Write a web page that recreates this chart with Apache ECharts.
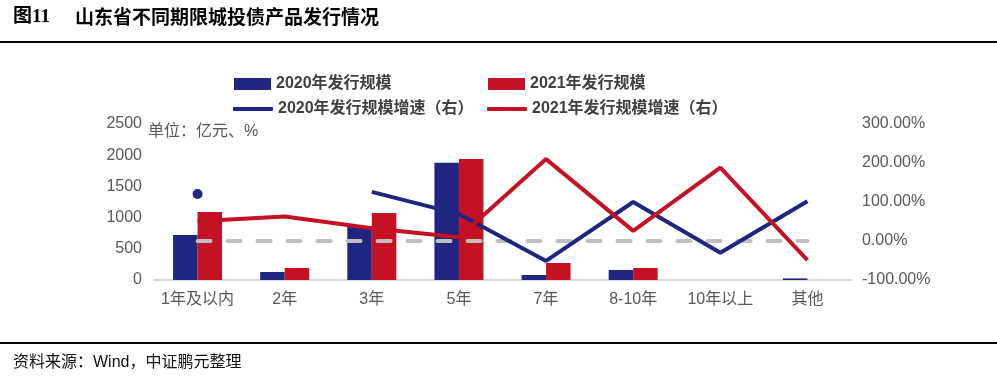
<!DOCTYPE html>
<html>
<head>
<meta charset="utf-8">
<script src="https://cdn.jsdelivr.net/npm/echarts@6/dist/echarts.min.js"></script>
<style>
html,body{margin:0;padding:0;background:#fff;}
#c{width:997px;height:383px;}
</style>
</head>
<body>
<div id="c"></div>
<script>
var categories = ['1年及以内', '2年', '3年', '5年', '7年', '8-10年', '10年以上', '其他'];
var scale2020 = [720, 128, 865, 1878, 80, 160, 0, 25];
var scale2021 = [1090, 192, 1074, 1940, 272, 192, 0, 0];
var growth2020 = [120.5, null, 126, 69, -51, 100, -30, 102];
var growth2021 = [50.5, 63, 32.5, 9.5, 210, 26, 188, -49];
var zeroRef = [0, 0, 0, 0, 0, 0, 0, 0];
var leftTicks = [0, 500, 1000, 1500, 2000, 2500];
var rightTicks = [-100, 0, 100, 200, 300];

var BLUE = '#1F2580';
var RED = '#C41123';
var FONT = '"Liberation Sans", "Noto Sans CJK SC", sans-serif';
var TXT = '#595959';

var chart = echarts.init(document.getElementById('c'));

function legendItem(name, left, top, w, h, color, isLine) {
  var item = { name: name, icon: isLine ? 'roundRect' : 'rect' };
  return {
    data: [item], left: left, top: top, itemWidth: w, itemHeight: h, itemGap: 0, padding: 0,
    selectedMode: false,
    itemStyle: { color: color, borderWidth: 0 },
    lineStyle: { opacity: 0 },
    textStyle: { fontFamily: FONT, fontSize: 16, fontWeight: 'bold', color: '#404040', lineHeight: 18 }
  };
}

var g2020 = growth2020.map(function (v, i) {
  if (v === null) return null;
  var prevNull = i === 0 || growth2020[i - 1] === null;
  var nextNull = i === growth2020.length - 1 || growth2020[i + 1] === null;
  if (prevNull && nextNull) return { value: v, symbol: 'circle', symbolSize: 10 };
  return v;
});

chart.setOption({
  animation: false,
  backgroundColor: '#fff',
  grid: { left: 154, right: 146, top: 124, bottom: 103 },
  legend: [
    legendItem('2020年发行规模', 234, 75, 37, 12, BLUE, false),
    legendItem('2021年发行规模', 488, 75, 37, 12, RED, false),
    legendItem('2020年发行规模增速（右）', 233, 100, 40, 4, BLUE, true),
    legendItem('2021年发行规模增速（右）', 487, 100, 40, 4, RED, true)
  ],
  graphic: [
    { type: 'text', left: 13, top: 8, style: { text: '图11', font: 'bold 19px "Liberation Serif", "Noto Sans CJK SC", serif', fill: '#000' } },
    { type: 'text', left: 75, top: 7, style: { text: '山东省不同期限城投债产品发行情况', font: 'bold 19px "Noto Sans CJK SC", serif', fill: '#000' } },
    { type: 'rect', shape: { x: 0, y: 41, width: 997, height: 2 }, style: { fill: '#000' } },
    { type: 'rect', shape: { x: 0, y: 342, width: 997, height: 2 }, style: { fill: '#000' } },
    { type: 'text', left: 13, top: 355, style: { text: '资料来源：Wind，中证鹏元整理', font: '16px "Liberation Sans", "Noto Sans CJK SC", sans-serif', fill: '#111' } },
    { type: 'text', left: 148, top: 124, style: { text: '单位：亿元、%', font: '16px "Liberation Sans", "Noto Sans CJK SC", sans-serif', fill: TXT } }
  ],
  xAxis: {
    type: 'category',
    data: categories,
    axisLine: { lineStyle: { color: '#D9D9D9', width: 2 } },
    axisTick: { show: false },
    axisLabel: { fontFamily: FONT, fontSize: 16, color: TXT, margin: 12, interval: 0 }
  },
  yAxis: [
    {
      type: 'value', min: leftTicks[0], max: leftTicks[leftTicks.length - 1], interval: 500,
      splitLine: { show: false }, axisLine: { show: false }, axisTick: { show: false },
      axisLabel: { fontFamily: FONT, fontSize: 16, color: TXT, margin: 12, formatter: function (v) { return String(v); } }
    },
    {
      type: 'value', min: rightTicks[0], max: rightTicks[rightTicks.length - 1], interval: 100,
      splitLine: { show: false }, axisLine: { show: false }, axisTick: { show: false },
      axisLabel: {
        fontFamily: FONT, fontSize: 16, color: TXT, margin: 11,
        formatter: function (v) { return v.toFixed(2) + '%'; }
      }
    }
  ],
  series: [
    { name: '2020年发行规模', type: 'bar', data: scale2020, barWidth: 24.5, barGap: '0%', itemStyle: { color: BLUE }, z: 1 },
    { name: '2021年发行规模', type: 'bar', data: scale2021, barWidth: 24.5, barGap: '0%', itemStyle: { color: RED }, z: 1 },
    {
      name: 'zero', type: 'line', yAxisIndex: 1, data: zeroRef, symbol: 'none', z: 2,
      lineStyle: { color: '#BFBFBF', width: 4, type: [13, 17], cap: 'round' }, silent: true
    },
    {
      name: '2020年发行规模增速（右）', type: 'line', yAxisIndex: 1, data: g2020, symbol: 'none', z: 3,
      itemStyle: { color: BLUE }, lineStyle: { color: BLUE, width: 4 }, connectNulls: false
    },
    {
      name: '2021年发行规模增速（右）', type: 'line', yAxisIndex: 1, data: growth2021, symbol: 'none', z: 4,
      itemStyle: { color: RED }, lineStyle: { color: RED, width: 4 }
    }
  ]
});
</script>
</body>
</html>
